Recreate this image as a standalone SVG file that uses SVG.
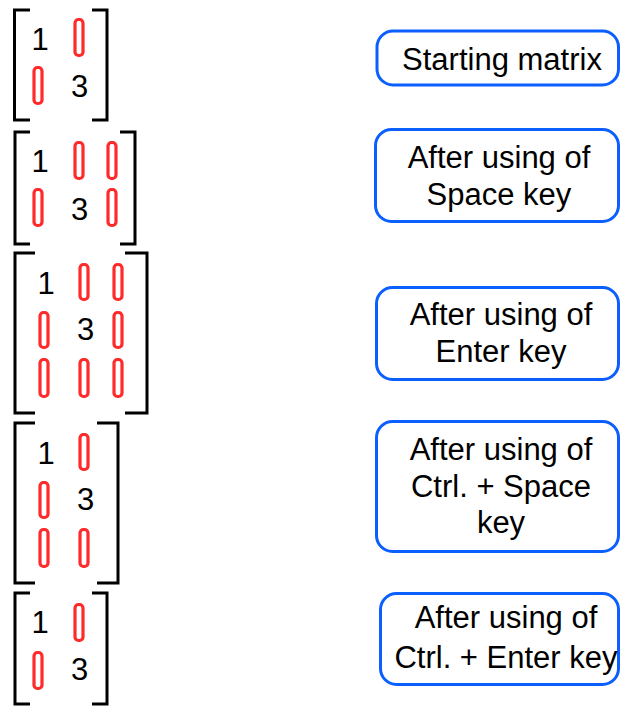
<svg xmlns="http://www.w3.org/2000/svg" width="620" height="706" viewBox="0 0 620 706">
<style>
.br{fill:none;stroke:#000;stroke-width:3;stroke-linecap:butt;stroke-linejoin:miter}
.z{fill:none;stroke:#FF2A2A;stroke-width:3.2}
.t{font-family:"Liberation Sans",Arial,sans-serif;font-size:31px;fill:#000;text-anchor:middle}
.box{fill:#fff;stroke:#0B5FFF;stroke-width:3}
</style>
<rect width="620" height="706" fill="#fff"/>
<g id="matrix1">
<path class="br" d="M30,10 H14.5 V120 H30"/><path class="br" d="M92,10 H107 V120 H92"/>
<text class="t" x="40" y="50">1</text><rect class="z" x="75" y="19.5" width="8" height="36" rx="3.5"/>
<rect class="z" x="34" y="67.5" width="8" height="36" rx="3.5"/><text class="t" x="79.5" y="97">3</text>
</g>
<g id="matrix2">
<path class="br" d="M30,132 H15 V244 H30"/><path class="br" d="M120,132 H135 V244 H120"/>
<text class="t" x="40" y="172">1</text><rect class="z" x="75" y="142.5" width="8" height="36" rx="3.5"/><rect class="z" x="108" y="142.5" width="8" height="36" rx="3.5"/>
<rect class="z" x="34" y="189.5" width="8" height="36" rx="3.5"/><text class="t" x="79.5" y="220">3</text><rect class="z" x="108" y="189.5" width="8" height="36" rx="3.5"/>
</g>
<g id="matrix3">
<path class="br" d="M35,253 H15 V413 H35"/><path class="br" d="M125,253 H147 V413 H125"/>
<text class="t" x="46" y="294">1</text><rect class="z" x="80" y="264.5" width="8" height="35" rx="3.5"/><rect class="z" x="114" y="264.5" width="8" height="35" rx="3.5"/>
<rect class="z" x="40" y="312.5" width="8" height="35" rx="3.5"/><text class="t" x="85.5" y="340">3</text><rect class="z" x="114" y="312.5" width="8" height="35" rx="3.5"/>
<rect class="z" x="40" y="359.5" width="8" height="37" rx="3.5"/><rect class="z" x="80" y="359.5" width="8" height="37" rx="3.5"/><rect class="z" x="114" y="359.5" width="8" height="37" rx="3.5"/>
</g>
<g id="matrix4">
<path class="br" d="M35,423 H15 V583 H35"/><path class="br" d="M97,423 H118 V583 H97"/>
<text class="t" x="46" y="464">1</text><rect class="z" x="80" y="434.5" width="8" height="35" rx="3.5"/>
<rect class="z" x="40" y="482.5" width="8" height="35" rx="3.5"/><text class="t" x="85.5" y="510">3</text>
<rect class="z" x="40" y="529.5" width="8" height="37" rx="3.5"/><rect class="z" x="80" y="529.5" width="8" height="37" rx="3.5"/>
</g>
<g id="matrix5">
<path class="br" d="M30,593 H15 V704 H30"/><path class="br" d="M92,593 H107 V704 H92"/>
<text class="t" x="40" y="633">1</text><rect class="z" x="75" y="604.5" width="8" height="36" rx="3.5"/>
<rect class="z" x="34" y="652.5" width="8" height="36" rx="3.5"/><text class="t" x="79.5" y="680">3</text>
</g>
<g id="label1">
<rect class="box" x="377" y="31" width="241.5" height="54" rx="16"/>
<text class="t" x="502" y="70">Starting matrix</text>
</g>
<g id="label2">
<rect class="box" x="375.5" y="129.5" width="243" height="92" rx="16"/>
<text class="t" x="499" y="168">After using of</text><text class="t" x="499" y="205">Space key</text>
</g>
<g id="label3">
<rect class="box" x="376.5" y="287.5" width="242" height="92" rx="16"/>
<text class="t" x="501" y="325">After using of</text><text class="t" x="501" y="362">Enter key</text>
</g>
<g id="label4">
<rect class="box" x="376.5" y="421.5" width="242" height="130" rx="16"/>
<text class="t" x="501" y="460">After using of</text><text class="t" x="501" y="497">Ctrl. + Space</text><text class="t" x="501" y="533">key</text>
</g>
<g id="label5">
<rect class="box" x="380.5" y="593.5" width="238" height="91" rx="16"/>
<text class="t" x="506" y="628">After using of</text><text class="t" x="506" y="668">Ctrl. + Enter key</text>
</g>
<g id="connectors"/>
</svg>
